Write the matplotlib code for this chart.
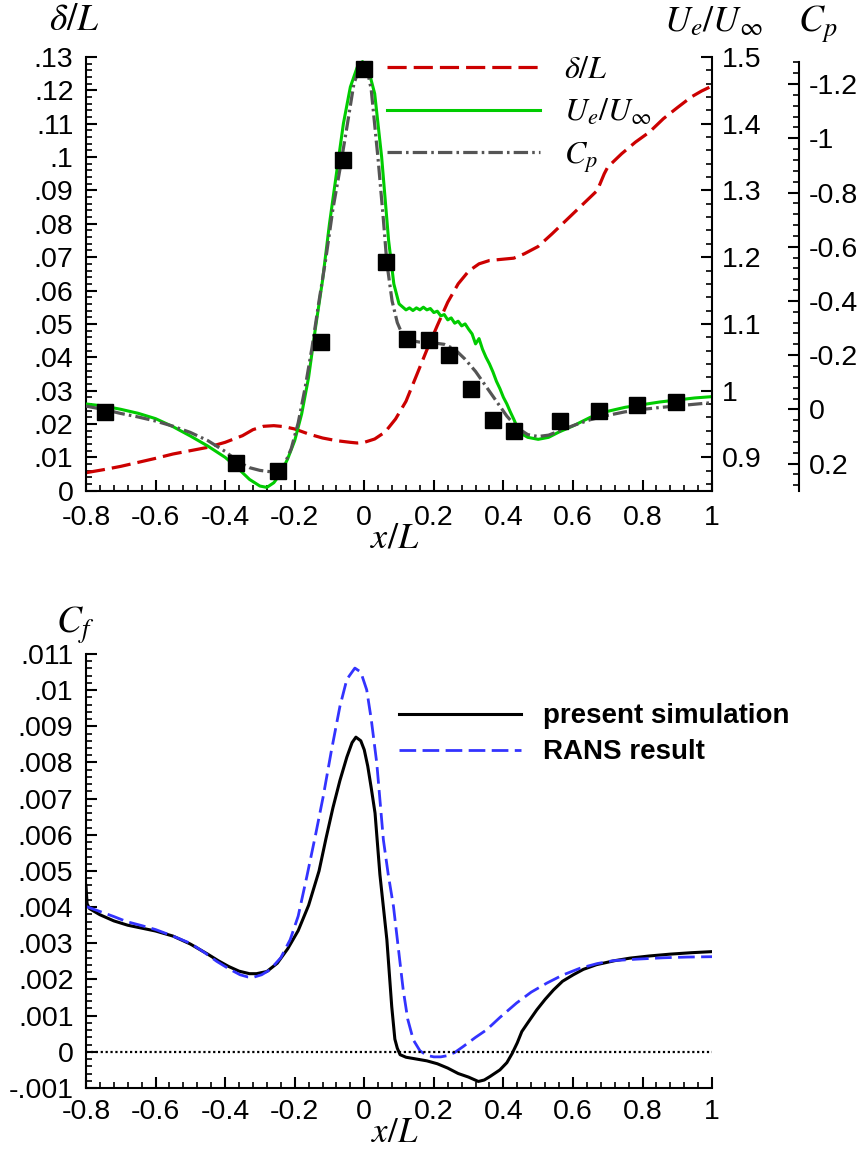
import numpy as np
import matplotlib.pyplot as plt
from matplotlib.ticker import FixedLocator, MultipleLocator

plt.rcParams['font.family'] = ['Liberation Sans', 'DejaVu Sans']
plt.rcParams['mathtext.fontset'] = 'stix'

# ------------------ top plot data ------------------
x_delta = [-0.8, -0.75, -0.7, -0.65, -0.6, -0.55, -0.5, -0.45, -0.4, -0.35, -0.32, -0.29,
           -0.26, -0.23, -0.2, -0.16, -0.12, -0.08, -0.04, -0.02, 0.0, 0.03, 0.06, 0.09,
           0.12, 0.15, 0.18, 0.21, 0.24, 0.27, 0.30, 0.33, 0.36, 0.40, 0.43, 0.46, 0.50,
           0.54, 0.58, 0.62, 0.65, 0.67, 0.68, 0.69, 0.70, 0.74, 0.78, 0.82, 0.86, 0.90, 0.94,
           0.97, 1.0]
delta = [.0054, .0063, .0073, .0085, .0097, .0110, .0120, .0130, .0145, .0165, .0183, .0193,
         .0195, .0192, .0185, .0170, .0158, .0150, .0145, .0143, .0145, .0155, .0176, .0215,
         .0268, .0345, .0422, .0495, .0565, .0620, .0658, .0680, .0690, .0694, .0697, .0710, .0732,
         .0770, .0810, .0850, .0880, .0900, .0925, .0950, .0970, .1010, .1045, .1075, .1115, .1148, .1180,
         .1198, .1213]

x_ue = [-0.8, -0.75, -0.7, -0.65, -0.6, -0.55, -0.5, -0.45, -0.4, -0.36, -0.33, -0.30, -0.28,
        -0.26, -0.24, -0.22, -0.2, -0.18, -0.16, -0.14, -0.12, -0.1, -0.08, -0.06, -0.04, -0.02,
        -0.005, 0.01, 0.03, 0.05, 0.07, 0.085, 0.1, 0.12, 0.13, 0.14, 0.15, 0.16, 0.17, 0.18,
        0.19, 0.2, 0.21, 0.22, 0.23, 0.24, 0.25, 0.26, 0.27, 0.28, 0.29, 0.30, 0.31, 0.32,
        0.33, 0.34, 0.35, 0.36, 0.37, 0.38, 0.39, 0.40, 0.41, 0.42, 0.43, 0.44, 0.45, 0.47, 0.50,
        0.53, 0.56, 0.6, 0.65, 0.7, 0.75, 0.8, 0.85, 0.9, 0.95, 1.0]
ue = [.980, .977, .972, .966, .958, .946, .932, .917, .900, .882, .867, .857, .855,
      .862, .876, .898, .925, .965, 1.020, 1.095, 1.165, 1.250, 1.325, 1.400, 1.455, 1.485,
      1.493, 1.485, 1.445, 1.350, 1.225, 1.160, 1.130, 1.121, 1.124, 1.120, 1.124, 1.121, 1.125, 1.121,
      1.123, 1.117, 1.119, 1.112, 1.114, 1.106, 1.109, 1.101, 1.104, 1.097, 1.100, 1.092, 1.085, 1.070,
      1.078, 1.062, 1.050, 1.040, 1.028, 1.014, 1.003, .990, .980, .968, .957, .945, .936, .930, .927,
      .930, .938, .947, .960, .969, .975, .979, .983, .986, .989, .991]

x_cp = [-0.8, -0.75, -0.7, -0.65, -0.6, -0.55, -0.5, -0.45, -0.4, -0.36, -0.33, -0.3, -0.27,
        -0.25, -0.23, -0.21, -0.19, -0.17, -0.15, -0.13, -0.11, -0.09, -0.07, -0.05, -0.03,
        -0.01, 0.005, 0.02, 0.04, 0.055, 0.065, 0.08, 0.095, 0.11, 0.13, 0.16, 0.2, 0.23, 0.26,
        0.29, 0.32, 0.35, 0.38, 0.41, 0.44, 0.47, 0.5, 0.53, 0.56, 0.6, 0.65, 0.7, 0.75, 0.8,
        0.85, 0.9, 0.95, 1.0]
cp = [-0.012, 0.0, 0.015, 0.028, 0.043, 0.062, 0.085, 0.115, 0.155, 0.195, 0.215, 0.225, 0.230,
      0.228, 0.205, 0.145, 0.050, -0.080, -0.230, -0.400, -0.560, -0.740, -0.885, -1.040, -1.200,
      -1.275, -1.275, -1.180, -0.920, -0.700, -0.540, -0.400, -0.320, -0.275, -0.255, -0.248, -0.245, -0.240, -0.222,
      -0.185, -0.140, -0.085, -0.030, 0.025, 0.068, 0.093, 0.100, 0.095, 0.080, 0.060, 0.038, 0.022, 0.009, 0.0,
      -0.007, -0.013, -0.019, -0.025]

x_exp = [-0.745, -0.370, -0.249, -0.124, -0.062, -0.002, 0.063, 0.122, 0.186, 0.245, 0.307,
         0.369, 0.430, 0.563, 0.675, 0.783, 0.896]
cp_exp = [0.009, 0.197, 0.228, -0.249, -0.920, -1.256, -0.545, -0.259, -0.255, -0.199, -0.075,
          0.040, 0.081, 0.041, 0.007, -0.016, -0.027]

# ------------------ bottom plot data ------------------
x_cf = [-0.8, -0.797, -0.79, -0.76, -0.72, -0.68, -0.64, -0.6, -0.55, -0.5, -0.45, -0.42, -0.39,
        -0.36, -0.33, -0.31, -0.28, -0.25, -0.22, -0.19, -0.16, -0.13, -0.11, -0.09, -0.07, -0.05,
        -0.035, -0.024, -0.01, 0.0, 0.01, 0.02, 0.031, 0.045, 0.055, 0.065, 0.079, 0.088, 0.095,
        0.103, 0.12, 0.15, 0.18, 0.21, 0.24, 0.27, 0.3, 0.328, 0.345, 0.362, 0.39, 0.41, 0.425,
        0.44, 0.453, 0.47, 0.496, 0.52, 0.544, 0.57, 0.601, 0.63, 0.668, 0.72, 0.764, 0.82, 0.879,
        0.94, 1.0]
cf = [.0046, .0041, .00396, .00379, .00362, .00350, .00342, .00334, .00320, .00298, .00270, .00252, .00236,
      .00223, .00216, .00216, .00222, .00245, .00285, .00335, .00405, .00500, .00590, .00675, .00750, .00815,
      .00855, .00870, .00860, .00835, .00790, .00730, .00660, .00490, .0040, .0031, .00125, .00035, .0001,
      -.00008, -.00015, -.0002, -.00025, -.00033, -.00045, -.0006, -.0007, -.00082, -.00078, -.00068, -.0005, -.0003, -.00005,
      .00025, .00056, .0008, .00116, .00145, .00171, .00195, .00213, .00228, .00241, .00252, .00259, .00265, .0027,
      .00274, .00277]

x_rans = [-0.8, -0.76, -0.72, -0.683, -0.64, -0.6, -0.55, -0.5, -0.46, -0.424, -0.39, -0.357, -0.335,
          -0.319, -0.295, -0.271, -0.24, -0.213, -0.19, -0.165, -0.14, -0.118, -0.095, -0.07, -0.05,
          -0.027, -0.01, 0.007, 0.02, 0.036, 0.055, 0.069, 0.084, 0.1, 0.112, 0.125, 0.141, 0.16, 0.18,
          0.2, 0.22, 0.237, 0.26, 0.285, 0.32, 0.352, 0.39, 0.438, 0.48, 0.525, 0.57, 0.62, 0.67, 0.716,
          0.78, 0.86, 0.93, 1.0]
cf_rans = [.00402, .00388, .00374, .0036, .00349, .00338, .0032, .003, .00275, .0025, .0023, .00213, .00207,
           .00206, .00213, .00227, .0026, .0031, .00375, .00485, .006, .00706, .0083, .00955, .0103,
           .01061, .0105, .01001, .0092, .00798, .00586, .0049, .00402, .0027, .00171, .0009, .00033, .00003, -.0001,
           -.00014, -.00014, -.00011, -.00002, .00015, .0004, .00061, .00095, .00135, .00165, .0019, .00212, .00231, .00244, .00252,
           .00256, .0026, .00262, .00263]

# ------------------ ticks ------------------
x_ticks = [-0.8, -0.6, -0.4, -0.2, 0, 0.2, 0.4, 0.6, 0.8, 1]
x_ticklabels = ['-0.8', '-0.6', '-0.4', '-0.2', '0', '0.2', '0.4', '0.6', '0.8', '1']
d_ticks = [0, .01, .02, .03, .04, .05, .06, .07, .08, .09, .1, .11, .12, .13]
d_ticklabels = ['0', '.01', '.02', '.03', '.04', '.05', '.06', '.07', '.08', '.09', '.1', '.11', '.12', '.13']
ue_ticks = [0.9, 1.0, 1.1, 1.2, 1.3, 1.4, 1.5]
ue_ticklabels = ['0.9', '1', '1.1', '1.2', '1.3', '1.4', '1.5']
cp_ticks = [0.2, 0, -0.2, -0.4, -0.6, -0.8, -1.0, -1.2]
cp_ticklabels = ['0.2', '0', '-0.2', '-0.4', '-0.6', '-0.8', '-1', '-1.2']
cf_ticks = [-.001, 0, .001, .002, .003, .004, .005, .006, .007, .008, .009, .01, .011]
cf_ticklabels = ['-.001', '0', '.001', '.002', '.003', '.004', '.005', '.006', '.007', '.008',
                 '.009', '.01', '.011']

TICK = 20.5
LAB = 27
LW_SP = 1.5


def style(a):
    for s in a.spines.values():
        s.set_linewidth(LW_SP)
    a.tick_params(which='major', direction='in', length=8, width=LW_SP, labelsize=TICK)
    a.tick_params(which='minor', direction='in', length=4.5, width=1.2)


fig = plt.figure(figsize=(8.6, 11.53), dpi=100)

# ------------------ top: delta, Ue, Cp ------------------
ax = fig.add_axes([0.1, 0.5744, 0.728, 0.3762])
ax2 = ax.twinx()
ax3 = ax.twinx()

ax.plot(x_delta, delta, color='#cc0000', lw=2.3, dashes=(6, 2.2), label=r'$\delta/L$')
ax2.plot(x_ue, ue, color='#00cc00', lw=2.2, label=r'$U_e/U_\infty$')
ax3.plot(x_cp, cp, color='#555555', lw=2.3, dashes=(4.5, 1.3, 0.8, 1.3), label=r'$C_p$')
ax3.plot(x_exp, cp_exp, 's', color='black', ms=12, zorder=5)

ax.set_xlim(-0.8, 1)
ax.set_ylim(0, 0.13)
ax2.set_ylim(0.85, 1.5)
ax3.set_ylim(0.3, -1.3)

for a in (ax, ax2, ax3):
    style(a)
ax.spines['top'].set_visible(False)
ax.spines['right'].set_visible(False)
for a in (ax2, ax3):
    a.spines['top'].set_visible(False)
    a.spines['left'].set_visible(False)
    a.spines['bottom'].set_visible(False)
ax3.spines['right'].set_position(('axes', 1.139))
ax3.spines['right'].set_bounds(0.3, -1.28)

ax.xaxis.set_major_locator(FixedLocator(x_ticks))
ax.set_xticklabels(x_ticklabels)
ax.xaxis.set_minor_locator(MultipleLocator(0.04))
ax.yaxis.set_major_locator(FixedLocator(d_ticks))
ax.set_yticklabels(d_ticklabels)
ax.yaxis.set_minor_locator(MultipleLocator(0.002))
ax.tick_params(axis='y', which='major', pad=9)
ax.tick_params(axis='x', which='major', pad=10.5)
ax.tick_params(which='both', top=False, right=False)

ax2.yaxis.set_major_locator(FixedLocator(ue_ticks))
ax2.set_yticklabels(ue_ticklabels)
ax2.yaxis.set_minor_locator(MultipleLocator(0.02))
ax2.tick_params(axis='y', which='major', pad=7)

ax3.yaxis.set_major_locator(FixedLocator(cp_ticks))
ax3.set_yticklabels(cp_ticklabels)
ax3.yaxis.set_minor_locator(MultipleLocator(0.04))
ax3.tick_params(axis='y', which='major', pad=7)

handles = [ax.get_lines()[0], ax2.get_lines()[0], ax3.get_lines()[0]]
ax3.legend(handles=handles, loc='upper left', bbox_to_anchor=(0.481, 1.005), frameon=False,
           fontsize=23, handlelength=4.8, handletextpad=0.75, labelspacing=0.40,
           borderpad=0, borderaxespad=0)

fig.text(74 / 860, 1 - 20 / 1153, r'$\delta/L$', fontsize=LAB, ha='center', va='center')
fig.text(713 / 860, 1 - 22 / 1153, r'$U_e/U_\infty$', fontsize=LAB - 1, ha='center', va='center')
fig.text(818 / 860, 1 - 24 / 1153, r'$C_p$', fontsize=LAB, ha='center', va='center')
fig.text(395 / 860, 1 - 538 / 1153, r'$x/L$', fontsize=LAB - 1, ha='center', va='center')

# ------------------ bottom: Cf ------------------
bx = fig.add_axes([0.1, 0.0564, 0.728, 0.3764])
bx.plot(x_cf, cf, color='black', lw=2.2, label='present simulation')
bx.plot(x_rans, cf_rans, color='#3333ff', lw=2.0, dashes=(6, 2.3), label='RANS result')
bx.plot([x_ticks[0], x_ticks[-1]], [0, 0], color='black', lw=1.6, dashes=(1, 1.2))

bx.set_xlim(-0.8, 1)
bx.set_ylim(-0.001, 0.011)
style(bx)
bx.spines['top'].set_visible(False)
bx.spines['right'].set_visible(False)
bx.tick_params(which='both', top=False, right=False)
bx.xaxis.set_major_locator(FixedLocator(x_ticks))
bx.set_xticklabels(x_ticklabels)
bx.xaxis.set_minor_locator(MultipleLocator(0.04))
bx.yaxis.set_major_locator(FixedLocator(cf_ticks))
bx.set_yticklabels(cf_ticklabels)
bx.yaxis.set_minor_locator(MultipleLocator(0.0002))
bx.tick_params(axis='y', which='major', pad=9)
bx.tick_params(axis='x', which='major', pad=8)

bx.legend(handles=bx.get_lines()[:2], loc='upper left', bbox_to_anchor=(0.5, 0.886),
          frameon=False, handlelength=4.4, handletextpad=0.78, labelspacing=0.36,
          borderpad=0, borderaxespad=0, prop={'weight': 'bold', 'size': 20})

fig.text(75 / 860, 1 - 625 / 1153, r'$C_f$', fontsize=LAB, ha='center', va='center')
fig.text(395 / 860, 1 - 1133 / 1153, r'$x/L$', fontsize=LAB - 2, ha='center', va='center')

fig.savefig('out.png', dpi=100)
